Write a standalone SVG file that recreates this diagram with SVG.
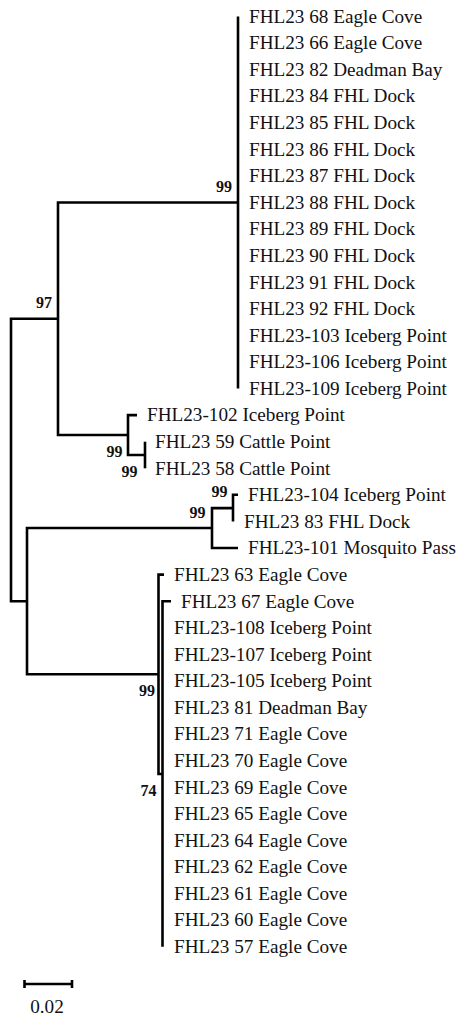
<svg xmlns="http://www.w3.org/2000/svg" width="461" height="1021" viewBox="0 0 461 1021">
<style>
.br{stroke:#000;stroke-width:2.6;fill:none;stroke-linejoin:miter;stroke-linecap:butt}
.t{font-family:"Liberation Serif","Times New Roman",serif;font-size:19.2px;fill:#111}
.b{font-family:"Liberation Serif","Times New Roman",serif;font-size:16px;font-weight:bold;fill:#111;text-anchor:end}
</style>
<rect width="461" height="1021" fill="#fff"/>
<g id="connectors">
<path class="br" d="M238 16.4 V388.5"/>
<path class="br" d="M238 202.5 H58 V435 H128"/>
<path class="br" d="M137 415.1 H128 V455 H145"/>
<path class="br" d="M145 441.7 V468.3"/>
<path class="br" d="M58 318.7 H11 V601.2 H27"/>
<path class="br" d="M212 528 H27 V674.3 H158.5"/>
<path class="br" d="M238 494.8 H233 V521.4"/>
<path class="br" d="M233 508.1 H212 V548 H238"/>
<path class="br" d="M164 574.6 H158.5 V774 H162.5"/>
<path class="br" d="M171 601.2 H162.5 V946.7"/>
</g>
<g id="support">
<g id="s-top"><text class="b" x="232" y="192">99</text></g>
<g id="s-97"><text class="b" x="52" y="308">97</text></g>
<g id="s-cattle"><text class="b" x="122.5" y="457">99</text></g>
<g id="s-cattle2"><text class="b" x="137.5" y="476.5">99</text></g>
<g id="s-mosq-in"><text class="b" x="227.5" y="497">99</text></g>
<g id="s-mosq"><text class="b" x="205.5" y="518">99</text></g>
<g id="s-bottom"><text class="b" x="155" y="695.5">99</text></g>
<g id="s-74"><text class="b" x="156.5" y="796">74</text></g>
</g>
<g id="leaves">
<g id="n68"><text class="t" x="249" y="22.7">FHL23 68 Eagle Cove</text></g>
<g id="n66"><text class="t" x="249" y="49.3">FHL23 66 Eagle Cove</text></g>
<g id="n82"><text class="t" x="249" y="75.9">FHL23 82 Deadman Bay</text></g>
<g id="n84"><text class="t" x="249" y="102.4">FHL23 84 FHL Dock</text></g>
<g id="n85"><text class="t" x="249" y="129">FHL23 85 FHL Dock</text></g>
<g id="n86"><text class="t" x="249" y="155.6">FHL23 86 FHL Dock</text></g>
<g id="n87"><text class="t" x="249" y="182.2">FHL23 87 FHL Dock</text></g>
<g id="n88"><text class="t" x="249" y="208.8">FHL23 88 FHL Dock</text></g>
<g id="n89"><text class="t" x="249" y="235.3">FHL23 89 FHL Dock</text></g>
<g id="n90"><text class="t" x="249" y="261.9">FHL23 90 FHL Dock</text></g>
<g id="n91"><text class="t" x="249" y="288.5">FHL23 91 FHL Dock</text></g>
<g id="n92"><text class="t" x="249" y="315.1">FHL23 92 FHL Dock</text></g>
<g id="n103"><text class="t" x="249" y="341.7">FHL23-103 Iceberg Point</text></g>
<g id="n106"><text class="t" x="249" y="368.2">FHL23-106 Iceberg Point</text></g>
<g id="n109"><text class="t" x="249" y="394.8">FHL23-109 Iceberg Point</text></g>
<g id="n102"><text class="t" x="147" y="421.4">FHL23-102 Iceberg Point</text></g>
<g id="n59"><text class="t" x="155" y="448">FHL23 59 Cattle Point</text></g>
<g id="n58"><text class="t" x="155" y="474.6">FHL23 58 Cattle Point</text></g>
<g id="n104"><text class="t" x="248" y="501.1">FHL23-104 Iceberg Point</text></g>
<g id="n83"><text class="t" x="244" y="527.7">FHL23 83 FHL Dock</text></g>
<g id="n101"><text class="t" x="248" y="554.3">FHL23-101 Mosquito Pass</text></g>
<g id="n63"><text class="t" x="174" y="580.9">FHL23 63 Eagle Cove</text></g>
<g id="n67"><text class="t" x="181" y="607.5">FHL23 67 Eagle Cove</text></g>
<g id="n108"><text class="t" x="174" y="634">FHL23-108 Iceberg Point</text></g>
<g id="n107"><text class="t" x="174" y="660.6">FHL23-107 Iceberg Point</text></g>
<g id="n105"><text class="t" x="174" y="687.2">FHL23-105 Iceberg Point</text></g>
<g id="n81"><text class="t" x="174" y="713.8">FHL23 81 Deadman Bay</text></g>
<g id="n71"><text class="t" x="174" y="740.4">FHL23 71 Eagle Cove</text></g>
<g id="n70"><text class="t" x="174" y="766.9">FHL23 70 Eagle Cove</text></g>
<g id="n69"><text class="t" x="174" y="793.5">FHL23 69 Eagle Cove</text></g>
<g id="n65"><text class="t" x="174" y="820.1">FHL23 65 Eagle Cove</text></g>
<g id="n64"><text class="t" x="174" y="846.7">FHL23 64 Eagle Cove</text></g>
<g id="n62"><text class="t" x="174" y="873.3">FHL23 62 Eagle Cove</text></g>
<g id="n61"><text class="t" x="174" y="899.8">FHL23 61 Eagle Cove</text></g>
<g id="n60"><text class="t" x="174" y="926.4">FHL23 60 Eagle Cove</text></g>
<g id="n57"><text class="t" x="174" y="953">FHL23 57 Eagle Cove</text></g>
</g>
<g id="scale">
<path class="br" d="M24.5 984 H72 M24.5 980 V988 M72 980 V988"/>
<text class="t" x="47" y="1013" text-anchor="middle">0.02</text>
</g>
</svg>
